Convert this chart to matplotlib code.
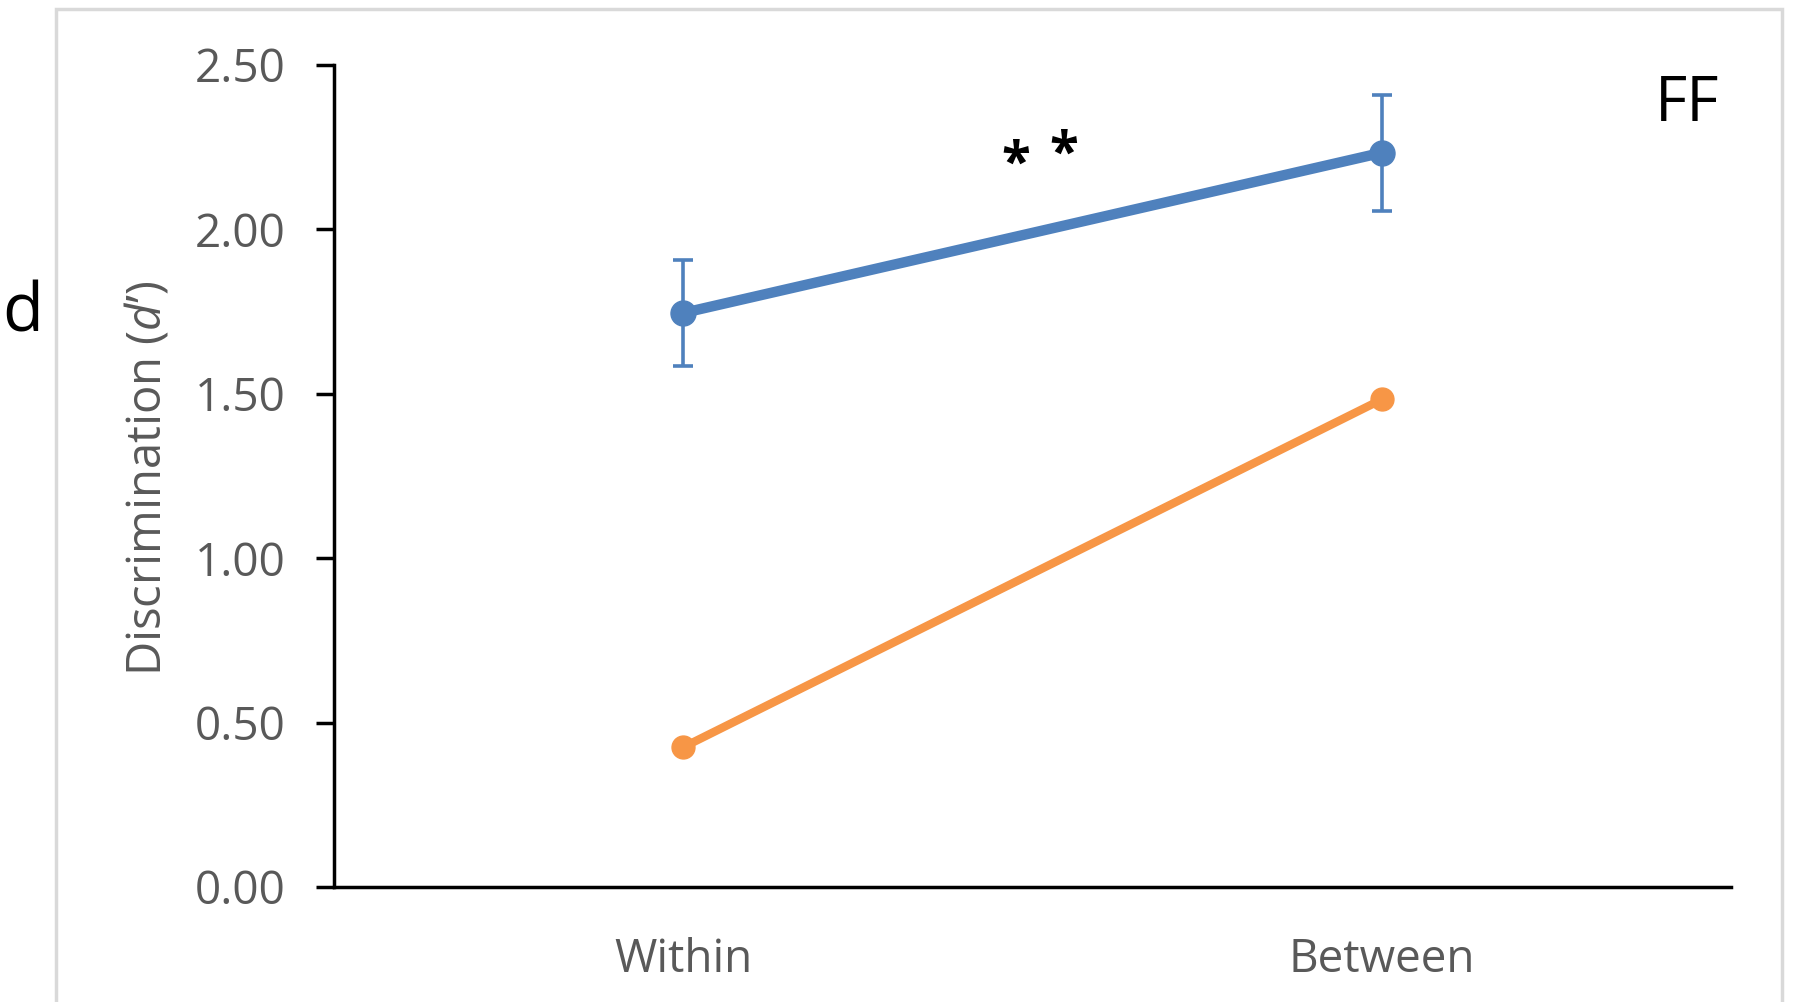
import matplotlib
matplotlib.use('Agg')
import matplotlib.pyplot as plt
from matplotlib.patches import Rectangle

# ---- data ----
categories = ['Within', 'Between']
blue_values = [1.745, 2.232]
blue_errors = [0.162, 0.177]
orange_values = [0.425, 1.482]
yticks = [0.0, 0.5, 1.0, 1.5, 2.0, 2.5]
ytick_labels = ['0.00', '0.50', '1.00', '1.50', '2.00', '2.50']
panel_letter = 'd'
panel_tag = 'FF'
sig_text = '*'

plt.rcParams['font.family'] = ['Open Sans', 'DejaVu Sans']
plt.rcParams['mathtext.fontset'] = 'custom'
plt.rcParams['mathtext.it'] = 'Open Sans:italic'
plt.rcParams['mathtext.rm'] = 'Open Sans'

W, H = 1809, 1002
fig = plt.figure(figsize=(W / 100, H / 100), dpi=100)
fig.patch.set_facecolor('white')

# outer light-gray frame (cut at bottom)
fig.patches.append(Rectangle((56 / W, -0.05), (1782 - 56) / W, 1 - 9 / H + 0.05,
                             transform=fig.transFigure, fill=False,
                             edgecolor='#d9d9d9', linewidth=2.5))

ax = fig.add_axes([334 / W, 1 - 887 / H, (1731 - 334) / W, (887 - 64.6) / H])
x = list(range(len(categories)))

blue = '#4f81bd'
orange = '#f79646'

ax.plot(x, orange_values, color=orange, linewidth=6, marker='o', markersize=16.5,
        solid_capstyle='round', zorder=3)
ax.errorbar(x, blue_values, yerr=blue_errors, color=blue, linewidth=7.5,
            marker='o', markersize=18, ecolor=blue, elinewidth=2.6,
            capsize=7, capthick=2.6, zorder=4)

ax.set_xlim(-0.5, 1.5)
ax.set_ylim(0, 2.5)
ax.set_yticks(yticks)
ax.set_yticklabels(ytick_labels)
ax.set_xticks(x)
ax.set_xticklabels(categories)

for s in ['top', 'right']:
    ax.spines[s].set_visible(False)
for s in ['left', 'bottom']:
    ax.spines[s].set_linewidth(2.5)
    ax.spines[s].set_color('black')

ax.tick_params(axis='y', length=13, width=2.5, color='black', pad=22,
               labelsize=33, labelcolor='#595959')
ax.tick_params(axis='x', length=0, pad=36, labelsize=33, labelcolor='#595959')

ax.set_ylabel(r'Discrimination ($\it{d}$’)', fontsize=34, color='#595959')
ax.yaxis.set_label_coords((172 - 334) / (1731 - 334), 0.5 + (887 - 478 - (887 - 64.6) / 2) / (887 - 64.6))

# significance stars
ax.text(0.476, 2.192, sig_text, fontsize=38, fontweight='bold', ha='center',
        va='center', color='black')
ax.text(0.545, 2.222, sig_text, fontsize=38, fontweight='bold', ha='center',
        va='center', color='black')

fig.text(23 / W, 1 - 314 / H, panel_letter, fontsize=48, ha='center', va='center',
         color='black')
fig.text(1687 / W, 1 - 105 / H, panel_tag, fontsize=45, ha='center', va='center',
         color='black')

fig.savefig('out.png', dpi=100, facecolor='white')
